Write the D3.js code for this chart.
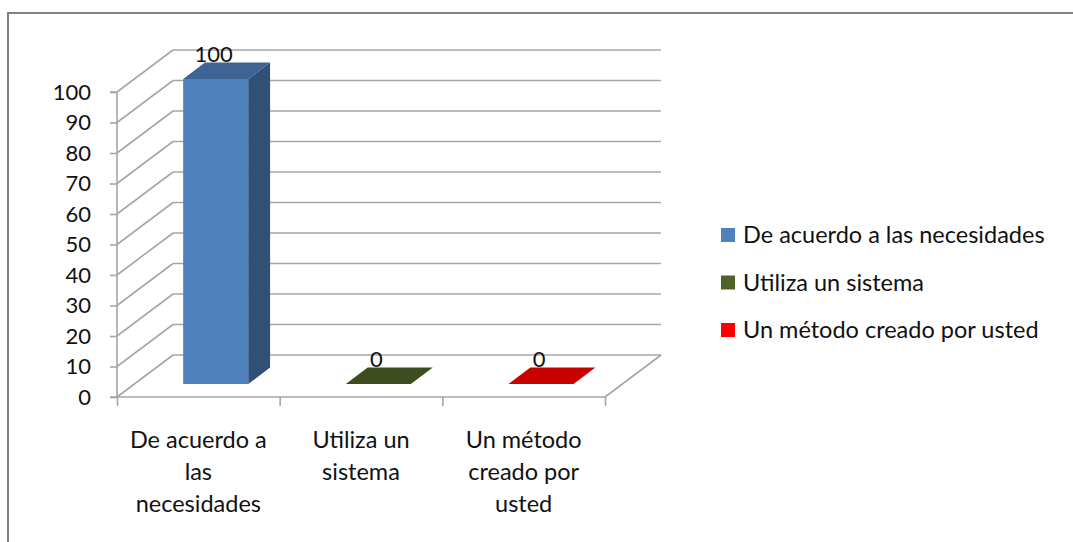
<!DOCTYPE html>
<html>
<head>
<meta charset="utf-8">
<script src="https://cdn.jsdelivr.net/npm/d3@7"></script>
<style>
  body { margin: 0; background: #fff; }
  text { font-family: Lato, "Open Sans", sans-serif; fill: #111; }
</style>
</head>
<body>
<script>
// chart data
var categories = ["De acuerdo a las necesidades", "Utiliza un sistema", "Un método creado por usted"];
var values = [100, 0, 0];
var categoryLines = [["De acuerdo a", "las", "necesidades"], ["Utiliza un", "sistema"], ["Un método", "creado por", "usted"]];
var yTicks = [0, 10, 20, 30, 40, 50, 60, 70, 80, 90, 100];
var colors = ["#4F81BD", "#4F6228", "#FF0000"];

var W = 1073, H = 542;

// 3d depth of the plot box
var depth = {dx: 56, dy: -42};
var barFront = 0.31, barBack = 0.70;

var svg = d3.select("body").append("svg")
    .attr("width", W)
    .attr("height", H);

// outer frame (right/bottom edges fall outside the picture)
svg.append("rect")
    .attr("x", 8).attr("y", 13)
    .attr("width", W + 20).attr("height", H + 20)
    .attr("fill", "none")
    .attr("stroke", "#808080")
    .attr("stroke-width", 2);

var y = d3.scaleLinear().domain([0, 100]).range([397, 92]);
var x = d3.scaleBand().domain(categories).range([117, 605]).paddingInner(0).paddingOuter(0);
var xl = d3.scaleLinear().domain([0, categories.length]).range([117, 605]);

var gridColor = "#a6a6a6";

// walls: left diagonals + back gridlines
var grid = svg.append("g").attr("class", "grid");
yTicks.forEach(function(v) {
  var y0 = y(v);
  grid.append("line")
      .attr("x1", 117).attr("y1", y0)
      .attr("x2", 117 + depth.dx).attr("y2", y0 + depth.dy);
  grid.append("line")
      .attr("x1", 117 + depth.dx).attr("y1", y0 + depth.dy)
      .attr("x2", 605 + depth.dx).attr("y2", y0 + depth.dy);
});
// floor right edge
grid.append("line")
    .attr("x1", 605).attr("y1", y(0))
    .attr("x2", 605 + depth.dx).attr("y2", y(0) + depth.dy);
grid.selectAll("line")
    .attr("stroke", gridColor)
    .attr("stroke-width", 1.6);

// y axis
var yAxis = svg.append("g")
    .attr("transform", "translate(117,0)")
    .call(d3.axisLeft(y).tickValues(yTicks).tickSize(7).tickPadding(19));
yAxis.selectAll("text")
    .style("font-size", "22px")
    .style("font-family", "Lato, 'Open Sans', sans-serif")
    .attr("fill", "#111");

// x axis (ticks on category boundaries)
var xAxis = svg.append("g")
    .attr("transform", "translate(0," + y(0) + ")")
    .call(d3.axisBottom(xl).tickValues(d3.range(categories.length + 1)).tickSize(9).tickFormat(""));

svg.selectAll(".domain, .tick line")
    .attr("stroke", gridColor)
    .attr("stroke-width", 1.6);
yAxis.select(".domain").attr("d", "M-7," + y(100) + "H0V" + y(0) + "H-7");
xAxis.select(".domain").attr("d", "M117,0H605");

// category labels
categoryLines.forEach(function(lines, i) {
  var cx = x(categories[i]) + x.bandwidth() / 2;
  var t = svg.append("text")
      .attr("text-anchor", "middle")
      .style("font-size", "23.5px");
  lines.forEach(function(l, j) {
    t.append("tspan").attr("x", cx).attr("y", 448 + j * 32).text(l);
  });
});

// 3d bars
function pt(px, py, f) {
  return [px + depth.dx * f, py + depth.dy * f];
}
var barW = x.bandwidth() * 0.4;
var bars = svg.append("g").attr("class", "bars");
values.forEach(function(v, i) {
  var c = d3.color(colors[i]);
  var xc = x(categories[i]) + x.bandwidth() / 2;
  var x0 = xc - barW / 2, x1 = xc + barW / 2;
  var yb = y(0), yt = y(v);
  var g = bars.append("g");
  var poly = function(p) { return p.map(function(q) { return q.join(","); }).join(" "); };
  if (v > 0) {
    // front
    g.append("polygon")
        .attr("points", poly([pt(x0, yt, barFront), pt(x1, yt, barFront), pt(x1, yb, barFront), pt(x0, yb, barFront)]))
        .attr("fill", c.formatHex());
    // side
    g.append("polygon")
        .attr("points", poly([pt(x1, yt, barFront), pt(x1, yt, barBack), pt(x1, yb, barBack), pt(x1, yb, barFront)]))
        .attr("fill", c.darker(1.35).formatHex());
  }
  // top
  g.append("polygon")
      .attr("points", poly([pt(x0, yt, barFront), pt(x1, yt, barFront), pt(x1, yt, barBack), pt(x0, yt, barBack)]))
      .attr("fill", c.darker(0.7).formatHex());

  // data label
  var lp = pt(xc, yt, barBack);
  svg.append("text")
      .attr("x", pt(xc, yt, barFront)[0] - 2)
      .attr("y", lp[1] - 1)
      .attr("text-anchor", "middle")
      .style("font-size", "22px")
      .text(v);
});

// legend
var legend = svg.append("g").attr("transform", "translate(721,235)");
categories.forEach(function(d, i) {
  var row = legend.append("g").attr("transform", "translate(0," + (i * 47.5) + ")");
  row.append("rect")
      .attr("x", 0).attr("y", -7)
      .attr("width", 14).attr("height", 14)
      .attr("fill", colors[i]);
  row.append("text")
      .attr("x", 22).attr("y", 0)
      .attr("dy", "0.35em")
      .style("font-size", "23.5px")
      .text(d);
});
</script>
</body>
</html>
